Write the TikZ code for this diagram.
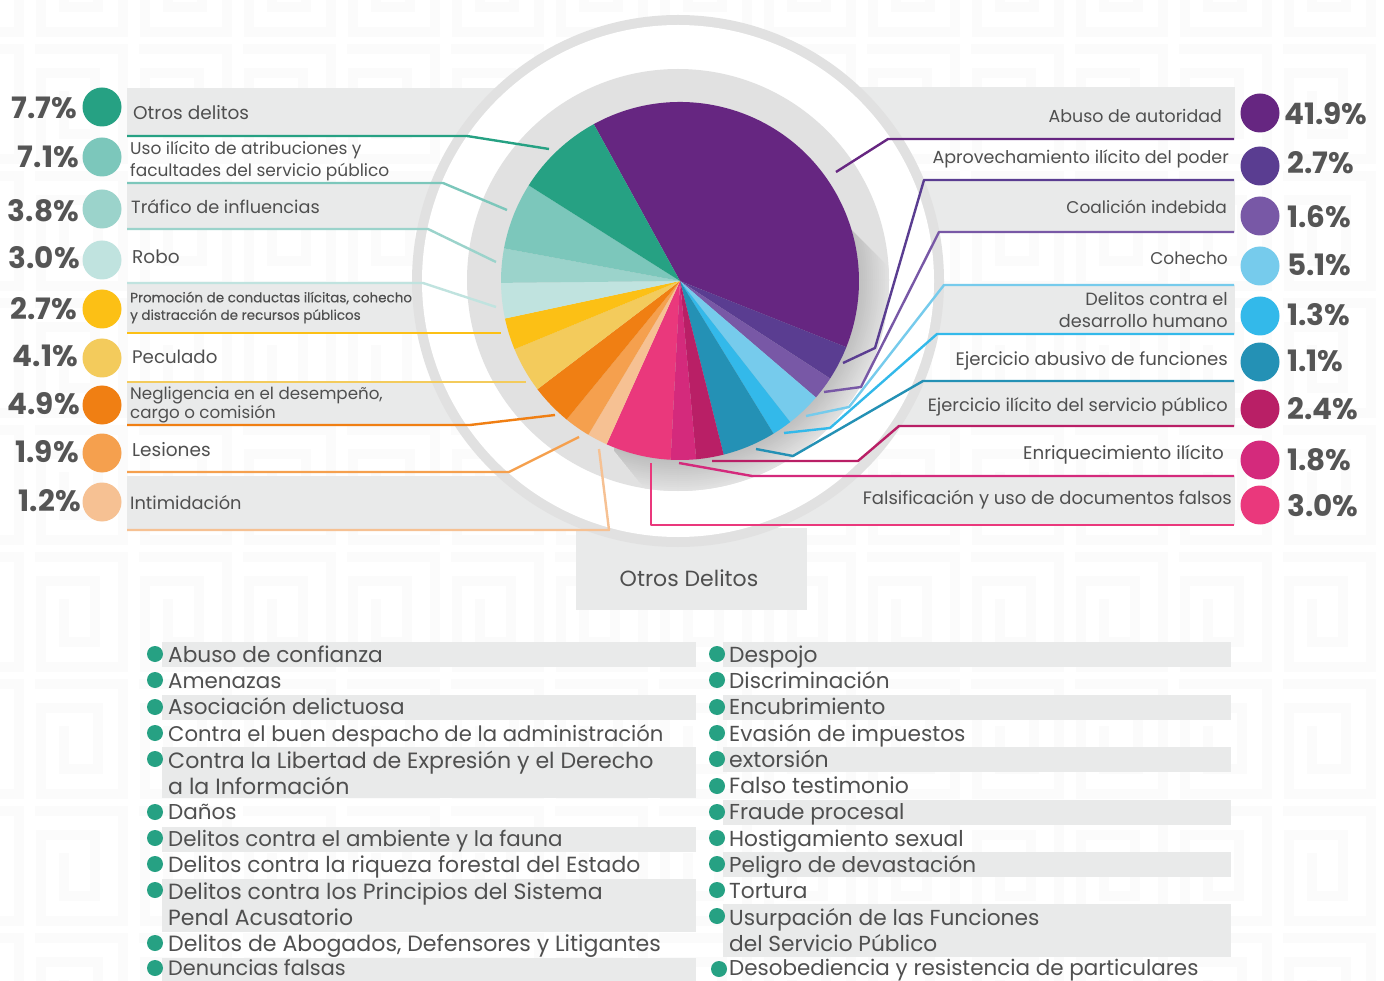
\documentclass[tikz,border=0pt]{standalone}
\usepackage{fontspec}
\setmainfont{Poppins}
\newfontfamily\popmed[FakeBold=0.35]{Poppins}
\definecolor{cA}{HTML}{662681}\definecolor{cB}{HTML}{5A3D91}\definecolor{cC}{HTML}{7858A6}
\definecolor{cD}{HTML}{76CBEC}\definecolor{cE}{HTML}{33B9EA}\definecolor{cF}{HTML}{2491B5}
\definecolor{cG}{HTML}{B91F66}\definecolor{cH}{HTML}{D42A7C}\definecolor{cI}{HTML}{EA387C}
\definecolor{dA}{HTML}{26A183}\definecolor{dB}{HTML}{7CC7BB}\definecolor{dC}{HTML}{9BD3CB}
\definecolor{dD}{HTML}{C0E3DF}\definecolor{dE}{HTML}{FCC015}\definecolor{dF}{HTML}{F3CB5C}
\definecolor{dG}{HTML}{F07F13}\definecolor{dH}{HTML}{F5A04E}\definecolor{dI}{HTML}{F6C193}
\definecolor{band}{HTML}{E9EAEA}\definecolor{ring}{HTML}{E1E1E1}\definecolor{txt}{HTML}{4F4F4F}\definecolor{pct}{HTML}{555555}\definecolor{keyp}{HTML}{FBFBFB}
\tikzset{
 lab/.style={inner sep=0pt,text=txt,font=\fontsize{#1}{22}\selectfont,anchor=west,text height=18pt,text depth=4pt},
 lab/.default=18.5,
 rlab/.style={inner sep=0pt,text=txt,font=\fontsize{#1}{22}\selectfont,anchor=east,text height=18pt,text depth=4pt},
 rlab/.default=18.5,
 labm/.style={inner sep=0pt,text=txt,font=\fontsize{#1}{22}\selectfont,align=left,anchor=west},
 rlabm/.style={inner sep=0pt,text=txt,font=\fontsize{#1}{22}\selectfont,align=right,anchor=east},
 perc/.style={inner sep=0pt,text=pct,font=\fontsize{29.5}{32}\selectfont\bfseries},
 dot/.style={circle,inner sep=0pt,minimum size=39pt},
 bullet/.style={circle,inner sep=0pt,minimum size=16pt,fill=dA},
 item/.style={inner sep=0pt,text=txt,font=\fontsize{#1}{26.3}\selectfont,anchor=west,text height=20pt,text depth=5pt},
 item/.default=21.6,
 itemm/.style={inner sep=0pt,text=txt,font=\fontsize{#1}{26.3}\selectfont,align=left,anchor=west},
 conn/.style={line width=2.4pt,line join=round},
}
\begin{document}
\begin{tikzpicture}[x=1pt,y=-1pt]
\useasboundingbox (0,0) rectangle (1384,981);
\clip (0,0) rectangle (1384,981);
\fill[white] (0,0) rectangle (1384,981);
% key pattern
\foreach \i in {0,...,14}\foreach \j/\k in {0/63,1/60,2/63,3/60,4/63,5/60,6/63,7/60,8/63}{
 \draw[keyp,line width=10pt,shift={(\i*104-69,\j*127-83)}]
  (0,5)--(88,5)--(88,115)--(6,115)--(6,29)--(\k,29)--(\k,90)--(29,90)--(29,47);
}
% bands
\foreach \xa/\ya/\xb/\yb in {127/88/678/136,127/183/678/230,127/283/678/333,127/381/678/425,127/476/678/530,
 678/87/1235/138,678/181/1235/232,678/285/1235/334,678/382/1235/426,678/476/1235/525,576/528/807/610}
 \fill[band] (\xa,\ya) rectangle (\xb,\yb);
% rings
\fill[ring] (678,281) circle[radius=266pt];
\fill[white] (678,281) circle[radius=256pt];
\fill[ring] (678,280) circle[radius=211pt];
% shadow
\begin{scope}
\clip (851,230)--(900,279)--(900,520)--(670,520)--(614,450)--(680,300)--cycle;
\foreach \k in {0,...,16}{
 \pgfmathsetmacro{\rr}{211-2*\k}
 \pgfmathsetmacro{\pc}{(\k*5)}
 \fill[black!30!white!\pc!ring] (678,280) circle[radius=\rr pt];
}
\end{scope}
% pie
\coordinate (pie) at (680,281);
\begin{scope}[shift={(pie)},x=1pt,y=1pt]
\foreach \a/\b/\c in {118.8/-21.7/cA,-21.7/-33/cB,-33/-40.6/cC,-40.6/-52/cD,-52/-58.5/cE,-58.5/-75.9/cF,-75.9/-84.8/cG,-84.8/-93/cH,-93/-114.2/cI,-114.2/-120.8/dI,-120.8/-129.3/dH,-129.3/-142.8/dG,-142.8/-157.6/dF,-157.6/-167.9/dE,-167.9/-179.4/dD,-179.4/-190.5/dC,-190.5/-212.3/dB,-212.3/-241.2/dA}
 \fill[\c] (0,0)--(\a:179pt) arc[start angle=\a,end angle=\b,radius=179pt]--cycle;
\end{scope}
% connector ends
\foreach \n/\x/\y in {a1/549/149,a2/507/210,a3/496/262,a4/496/307,a5/501/333,a6/526/382,a7/555/415,a8/579/437,a9/599/449,
 b1/836/172,b2/843/363,b3/824/392,b4/806/416,b5/784/433,b6/756/449,b7/712/461,b8/679/463,b9/651/463,
 s1/127/136,s2/127/183,s3/127/229,s4/127/283,s5/127/333,s6/127/382,s7/127/425,s8/127/472,s9/127/530,
 t1/1234/139,t2/1234/180,t3/1234/232,t4/1234/285,t5/1234/334,t6/1234/381,t7/1234/426,t8/1234/476,t9/1234/525}
 \coordinate (\n) at (\x,\y);
% left connectors
\draw[conn,dA] (s1)--(467,136)--(a1);
\draw[conn,dB] (s2)--(443,183)--(a2);
\draw[conn,dC] (s3)--(428,229)--(a3);
\draw[conn,dD] (s4)--(423,283)--(a4);
\draw[conn,dE] (s5)--(a5);
\draw[conn,dF] (s6)--(a6);
\draw[conn,dG] (s7)--(470,425)--(a7);
\draw[conn,dH] (s8)--(509,472)--(a8);
\draw[conn,dI] (s9)--(609,530)--(a9);
% right connectors
\draw[conn,cA] (t1)--(888,139)--(b1);
\draw[conn,cB] (t2)--(924,180)--(875,348)--(b2);
\draw[conn,cC] (t3)--(939,232)--(861,387)--(b3);
\draw[conn,cD] (t4)--(944,285)--(849,407)--(b4);
\draw[conn,cE] (t5)--(937,334)--(830,428)--(b5);
\draw[conn,cF] (t6)--(923,381)--(793,456)--(b6);
\draw[conn,cG] (t7)--(899,426)--(858,461)--(b7);
\draw[conn,cH] (t8)--(752,476)--(b8);
\draw[conn,cI] (t9)--(651,525)--(b9);
% dots
\foreach \n/\y/\c in {1/107/dA,2/157/dB,3/209/dC,4/260/dD,5/309/dE,6/358/dF,7/405/dG,8/453/dH,9/502/dI}
 \node[dot,fill=\c] (ld\n) at (102,\y) {};
\foreach \n/\y/\c in {1/113/cA,2/166/cB,3/216/cC,4/266/cD,5/316/cE,6/362/cF,7/409/cG,8/460/cH,9/505/cI}
 \node[dot,fill=\c] (rd\n) at (1260,\y) {};
% left percents
\node[perc,anchor=east] (lp1) at (77,108) {7.7\%};
\node[perc,anchor=east] (lp2) at (79,157) {7.1\%};
\node[perc,anchor=east] (lp3) at (79,211) {3.8\%};
\node[perc,anchor=east] (lp4) at (80,258) {3.0\%};
\node[perc,anchor=east] (lp5) at (77,309) {2.7\%};
\node[perc,anchor=east] (lp6) at (78,356) {4.1\%};
\node[perc,anchor=east] (lp7) at (80,404) {4.9\%};
\node[perc,anchor=east] (lp8) at (79,452) {1.9\%};
\node[perc,anchor=east] (lp9) at (81,501) {1.2\%};
% right percents
\node[perc,anchor=west] (rp1) at (1284,114) {41.9\%};
\node[perc,anchor=west] (rp2) at (1287,163) {2.7\%};
\node[perc,anchor=west] (rp3) at (1287,217) {1.6\%};
\node[perc,anchor=west] (rp4) at (1287,265) {5.1\%};
\node[perc,anchor=west] (rp5) at (1287,315) {1.3\%};
\node[perc,anchor=west] (rp6) at (1287,361) {1.1\%};
\node[perc,anchor=west] (rp7) at (1287,409) {2.4\%};
\node[perc,anchor=west] (rp8) at (1287,460) {1.8\%};
\node[perc,anchor=west] (rp9) at (1287,506) {3.0\%};
% left labels
\node[lab] (l1) at (133,113) {Otros delitos};
\node[labm=17] (l2) at (130,161.5) {Uso ilícito de atribuciones y\\facultades del servicio público};
\node[lab=17.7] (l3) at (131,207) {Tráfico de influencias};
\node[lab] (l4) at (132,257) {Robo};
\node[inner sep=0pt,text=txt,align=left,anchor=west,font=\popmed\fontsize{13.5}{17.5}\selectfont] (l5) at (130,307.5) {Promoción de conductas ilícitas, cohecho\\y distracción de recursos públicos};
\node[lab=18.2] (l6) at (132,357) {Peculado};
\node[inner sep=0pt,text=txt,align=left,anchor=west,font=\fontsize{16.7}{19.5}\selectfont] (l7) at (130,405) {Negligencia en el desempeño,\\cargo o comisión};
\node[lab] (l8) at (132,449) {Lesiones};
\node[lab=17.8] (l9) at (130,502) {Intimidación};
% right labels
\node[rlab=17.4] (r1) at (1222,116) {Abuso de autoridad};
\node[rlab=17.5] (r2) at (1229,157) {Aprovechamiento ilícito del poder};
\node[rlab=17] (r3) at (1227,207) {Coalición indebida};
\node[rlab=17] (r4) at (1228,258) {Cohecho};
\node[rlabm=17.7] (r5) at (1228,310) {Delitos contra el\\desarrollo humano};
\node[rlab=18.1] (r6) at (1228,358.5) {Ejercicio abusivo de funciones};
\node[rlab=17.8] (r7) at (1228,404) {Ejercicio ilícito del servicio público};
\node[rlab=18.3] (r8) at (1224,452.5) {Enriquecimiento ilícito};
\node[rlab=18] (r9) at (1232,497.5) {Falsificación y uso de documentos falsos};
\node[inner sep=0pt,text=txt,font=\fontsize{22}{26}\selectfont] (title) at (689,578) {Otros Delitos};
% list bands
\foreach \ya/\yb in {642/667,695/720,747/798,827/852,879/932,958/981}
 \fill[band] (162,\ya) rectangle (696,\yb);
\foreach \ya/\yb in {642/667,695/720,747/772,800/825,852/877,904/957}
 \fill[band] (723,\ya) rectangle (1231,\yb);
% left list
\foreach \n/\y/\s/\t in {1/655/21.7/Abuso de confianza,2/681/21.4/Amenazas,3/707/21.5/Asociación delictuosa,4/734/21.2/Contra el buen despacho de la administración,6/812/21.5/Daños,7/839/21.4/Delitos contra el ambiente y la fauna,8/865/21.9/Delitos contra la riqueza forestal del Estado,10/944/22.1/{Delitos de Abogados, Defensores y Litigantes},11/968/20.8/Denuncias falsas}
 \node[item=\s] (li\n) at (168,\y) {\t};
\node[itemm=22.1] (li5) at (168,773) {Contra la Libertad de Expresión y el Derecho\\a la Información};
\node[itemm=22] (li9) at (168,904) {Delitos contra los Principios del Sistema\\Penal Acusatorio};
% right list
\foreach \n/\y/\s/\t in {1/655/21.8/Despojo,2/681/21.6/Discriminación,3/707/21.6/Encubrimiento,4/734/21.7/Evasión de impuestos,5/760/22/extorsión,6/786/22/Falso testimonio,7/812/21.6/Fraude procesal,8/839/21.7/Hostigamiento sexual,9/865/21.6/Peligro de devastación,10/891/21.7/Tortura,12/968/21.45/Desobediencia y resistencia de particulares}
 \node[item=\s] (ri\n) at (729,\y) {\t};
\node[itemm=21.7] (ri11) at (729,930) {Usurpación de las Funciones\\del Servicio Público};
% bullets
\foreach \n/\y in {1/654,2/680,3/707,4/733,5/759,6/812,7/838,8/864,9/890,10/943,11/968}
 \node[bullet] (bl\n) at (155,\y) {};
\foreach \n/\y in {1/654,2/680,3/707,4/733,5/759,6/786,7/812,8/838,9/864,10/890,11/916}
 \node[bullet] (br\n) at (717,\y) {};
\node[bullet] (br12) at (719,969) {};
\end{tikzpicture}
\end{document}
